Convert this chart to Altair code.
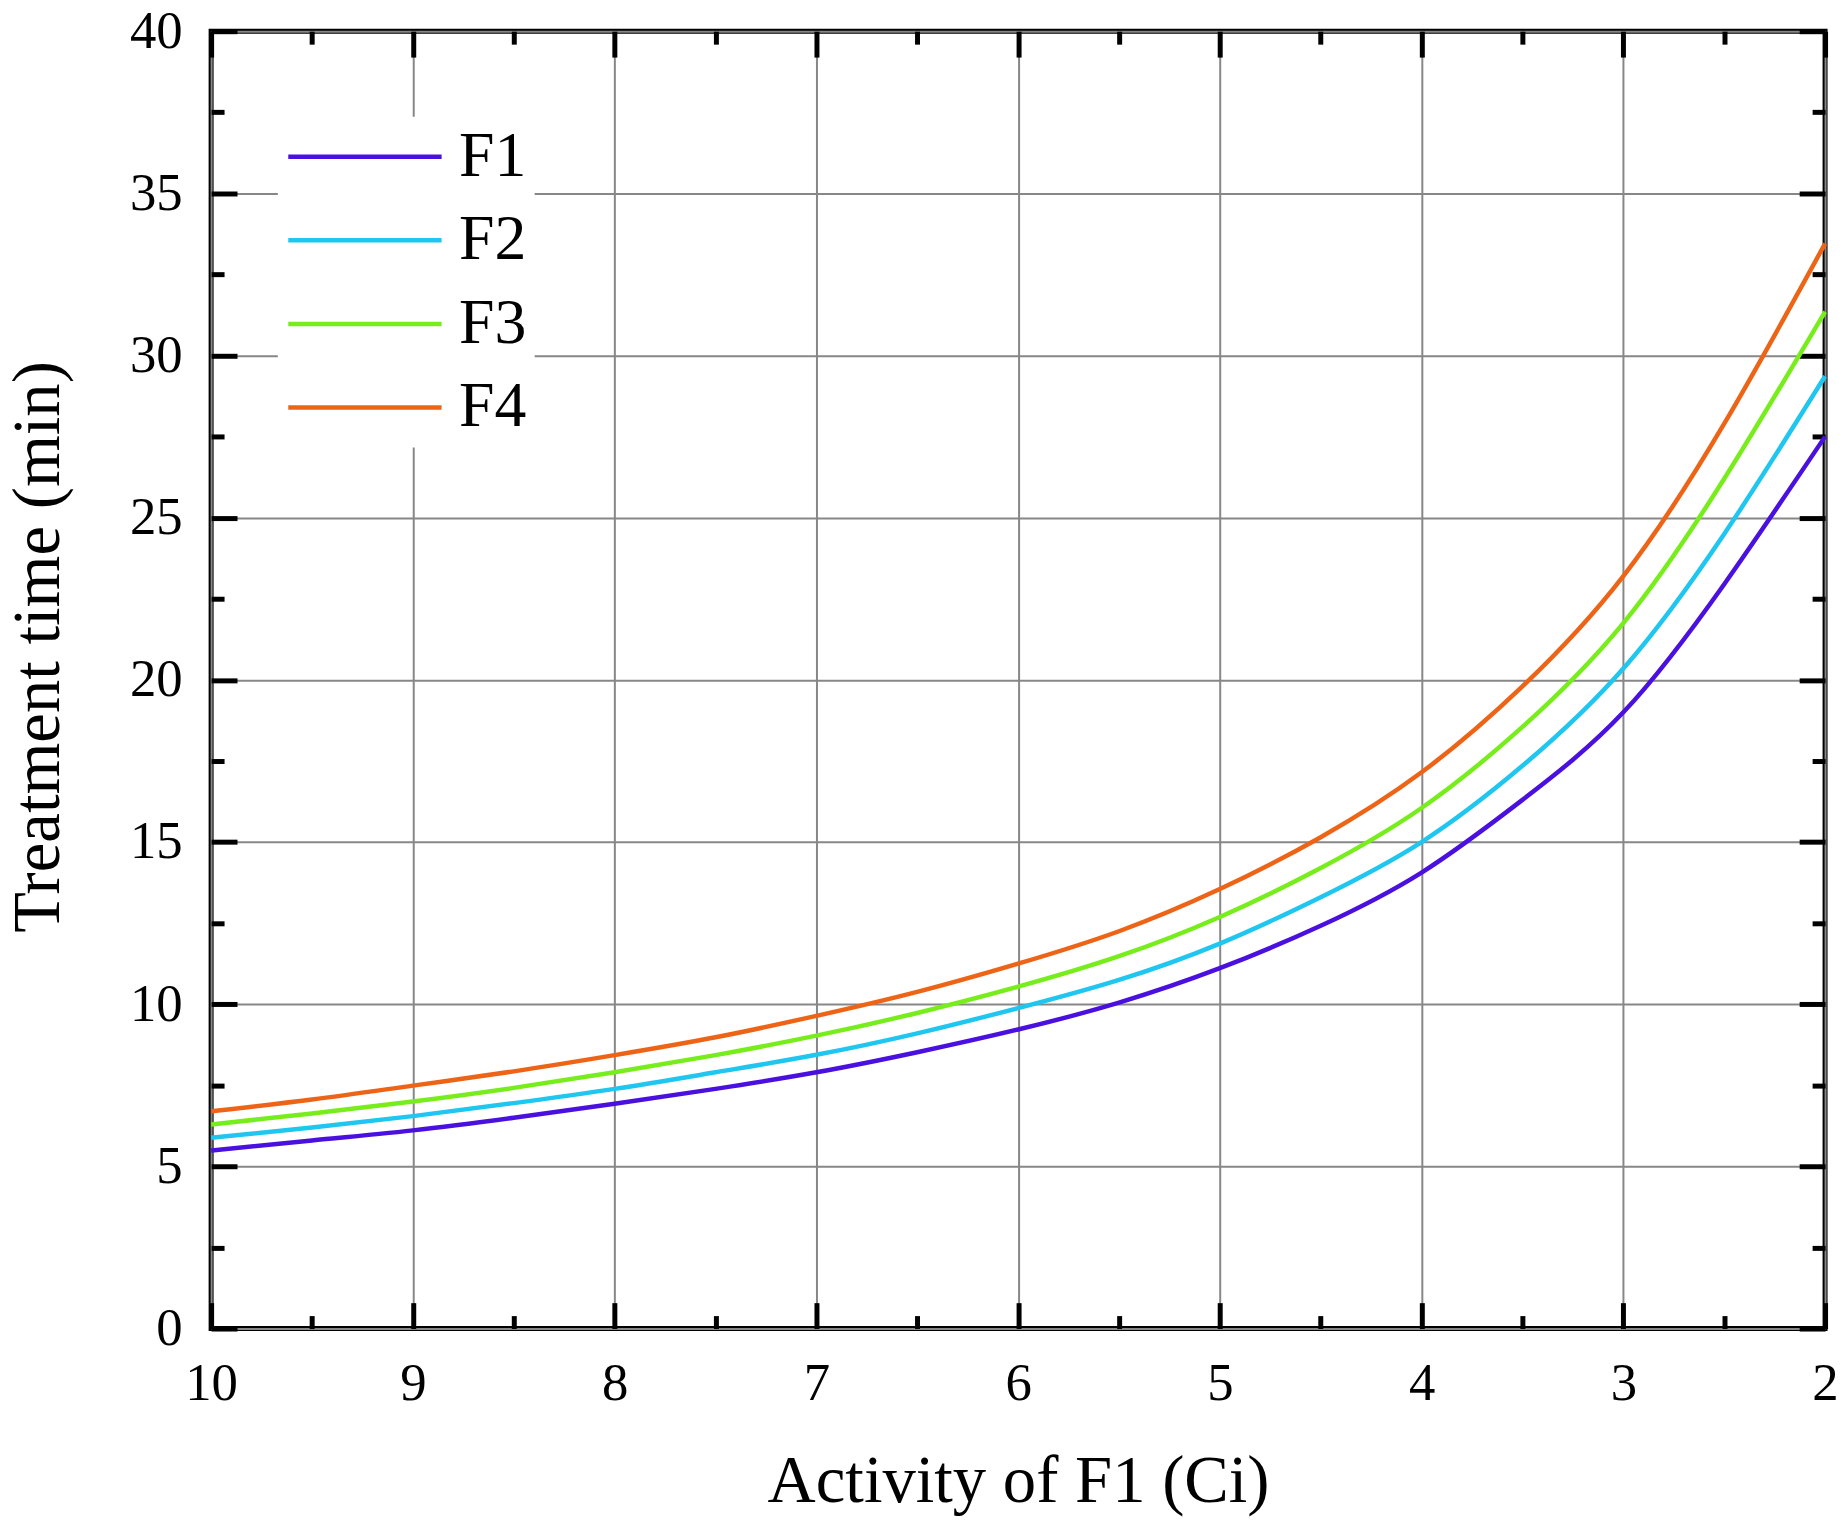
import altair as alt
import pandas as pd

# ---- data ----
activity = [10, 9.5, 9, 8.5, 8, 7.5, 7, 6.5, 6, 5.5, 5, 4.5, 4, 3.5, 3, 2.5, 2]
f1 = [5.49, 5.80, 6.11, 6.50, 6.93, 7.39, 7.90, 8.52, 9.22, 10.05, 11.11, 12.42, 14.06, 16.30, 19.00, 22.95, 27.50]
f2 = [5.88, 6.20, 6.55, 6.95, 7.39, 7.90, 8.44, 9.10, 9.88, 10.75, 11.87, 13.30, 15.00, 17.35, 20.35, 24.50, 29.36]
f3 = [6.29, 6.63, 7.00, 7.42, 7.90, 8.43, 9.03, 9.73, 10.54, 11.48, 12.69, 14.20, 16.05, 18.55, 21.75, 26.20, 31.35]
f4 = [6.70, 7.06, 7.49, 7.93, 8.43, 8.98, 9.64, 10.38, 11.25, 12.25, 13.55, 15.15, 17.15, 19.80, 23.20, 27.90, 33.45]
series_names = ["F1", "F2", "F3", "F4"]
series_colors = ["#4A10E0", "#1FC6F0", "#77EE1C", "#EE6416"]

x_major = [10, 9, 8, 7, 6, 5, 4, 3, 2]
x_minor = [9.5, 8.5, 7.5, 6.5, 5.5, 4.5, 3.5, 2.5]
y_major = [0, 5, 10, 15, 20, 25, 30, 35, 40]
y_minor = [2.5, 7.5, 12.5, 17.5, 22.5, 27.5, 32.5, 37.5]

rows = []
for name, vals in zip(series_names, [f1, f2, f3, f4]):
    for a, t in zip(activity, vals):
        rows.append({"activity": a, "time": t, "series": name})
df = pd.DataFrame(rows)

FONT = "Liberation Serif"
xscale = alt.Scale(domain=[2, 10], reverse=True, nice=False, zero=False)
yscale = alt.Scale(domain=[0, 40], nice=False, zero=False)

lines = alt.Chart(df).mark_line(strokeWidth=4.5, interpolate="natural").encode(
    x=alt.X("activity:Q", scale=xscale,
            axis=alt.Axis(orient="bottom", values=x_major, format="d",
                          title="Activity of F1 (Ci)", grid=True, gridColor="#878787",
                          gridWidth=2, gridOpacity=1, ticks=False, tickSize=0, domain=False,
                          labelFont=FONT, labelFontSize=53, labelColor="black",
                          labelPadding=29, labelFlush=False, labelOverlap=False,
                          titleFont=FONT, titleFontSize=67, titleFontWeight="normal",
                          titleColor="black", titleBaseline="alphabetic", titleY=174)),
    y=alt.Y("time:Q", scale=yscale,
            axis=alt.Axis(orient="left", values=y_major, format="d",
                          title="Treatment time (min)", grid=True, gridColor="#878787",
                          gridWidth=2, gridOpacity=1, ticks=False, tickSize=0, domain=False,
                          labelFont=FONT, labelFontSize=53, labelColor="black",
                          labelPadding=29, labelFlush=False, labelOverlap=False,
                          titleFont=FONT, titleFontSize=67, titleFontWeight="normal",
                          titleColor="black", titleBaseline="alphabetic",
                          titleX=-153, titleY=618)),
    color=alt.Color("series:N", sort=series_names,
                    scale=alt.Scale(domain=series_names, range=series_colors),
                    legend=alt.Legend(title=None, orient="none", legendX=67, legendY=86,
                                      symbolType="stroke", symbolSize=23716,
                                      symbolStrokeWidth=4.5, clipHeight=64,
                                      labelFont=FONT, labelFontSize=64, labelColor="black",
                                      labelOffset=15, rowPadding=20, fillColor="white",
                                      padding=8)),
)


def tick_layer(ox, oy, xv, yv, size):
    return alt.Chart(df).mark_point(opacity=0, size=0).encode(
        x=alt.X("activity:Q", scale=xscale,
                axis=alt.Axis(orient=ox, values=xv, labels=False, domain=False, grid=False,
                              ticks=True, tickSize=size, tickWidth=5, tickColor="black",
                              offset=-size, title=None)),
        y=alt.Y("time:Q", scale=yscale,
                axis=alt.Axis(orient=oy, values=yv, labels=False, domain=False, grid=False,
                              ticks=True, tickSize=size, tickWidth=5, tickColor="black",
                              offset=-size, title=None)),
    )


chart = alt.layer(
    lines,
    tick_layer("bottom", "left", x_major, y_major, 26),
    tick_layer("top", "right", x_major, y_major, 26),
    tick_layer("bottom", "left", x_minor, y_minor, 13),
    tick_layer("top", "right", x_minor, y_minor, 13),
).resolve_axis(x="independent", y="independent").properties(
    width=1621, height=1303,
    autosize=alt.AutoSizeParams(type="none"),
    padding={"left": 204, "top": 20, "right": 14, "bottom": 192},
    background="white",
).configure_view(stroke="black", strokeWidth=5)

chart.save("out.html", embed_options={"renderer": "svg", "actions": False})
